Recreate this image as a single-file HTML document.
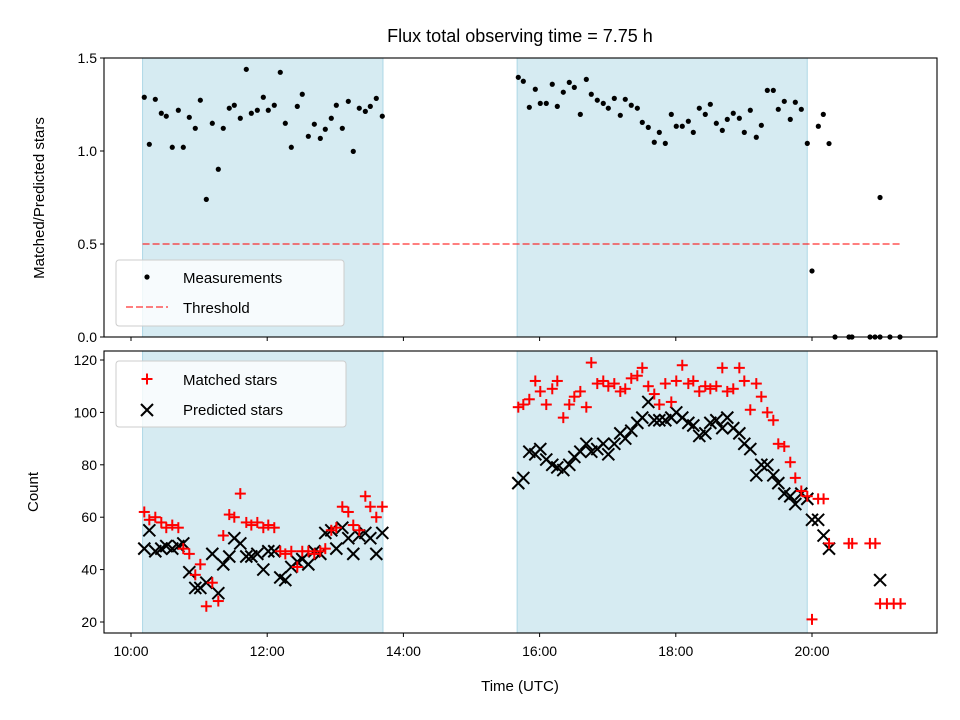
<!DOCTYPE html>
<html><head><meta charset="utf-8"><style>
body{margin:0;background:#fff;}
svg{display:block;font-family:"Liberation Sans","DejaVu Sans",sans-serif;}
</style></head><body>
<svg id="chart" width="960" height="720" viewBox="0 0 960 720" xmlns="http://www.w3.org/2000/svg"></svg>
<script>
// ---------- data ----------
const timesA = [10.195,10.269,10.357,10.445,10.518,10.606,10.695,10.768,10.856,10.944,11.018,11.106,11.194,11.282,11.355,11.443,11.517,11.605,11.693,11.767,11.855,11.943,12.016,12.104,12.192,12.266,12.354,12.442,12.515,12.604,12.692,12.780,12.853,12.941,13.015,13.103,13.191,13.264,13.352,13.441,13.514,13.602,13.690];
const ratioA = [1.289,1.036,1.278,1.203,1.187,1.020,1.219,1.020,1.181,1.122,1.273,0.740,1.149,0.902,1.122,1.230,1.246,1.176,1.439,1.203,1.219,1.289,1.219,1.246,1.423,1.149,1.020,1.240,1.305,1.079,1.144,1.068,1.117,1.176,1.246,1.122,1.267,0.998,1.230,1.213,1.240,1.283,1.187];
const matchedA = [62,59,60,58,56,57,56,48,46,38,42,26,35,28,53,61,60,69,58,57,58,56,57,56,47,46,47,41,47,47,46,47,48,55,56,64,62,57,55,68,64,60,64];
const predictedA = [48,55,47,48,49,48,49,50,39,33,33,35,46,31,42,45,52,50,45,45,46,40,47,47,37,36,41,43,44,42,47,46,54,55,48,56,52,46,53,54,52,46,54];
const timesB = [15.687,15.761,15.849,15.937,16.010,16.098,16.186,16.260,16.348,16.436,16.510,16.598,16.686,16.759,16.847,16.935,17.009,17.097,17.185,17.258,17.346,17.435,17.508,17.596,17.684,17.758,17.846,17.934,18.007,18.095,18.184,18.257,18.345,18.433,18.507,18.595,18.683,18.756,18.844,18.933,19.006,19.094,19.182,19.256,19.344,19.432,19.505,19.593,19.681,19.755,19.843,19.931];
const ratioB = [1.396,1.375,1.235,1.332,1.256,1.256,1.359,1.240,1.316,1.369,1.342,1.197,1.385,1.305,1.273,1.256,1.230,1.283,1.192,1.278,1.246,1.230,1.154,1.127,1.047,1.100,1.041,1.197,1.133,1.133,1.160,1.100,1.230,1.197,1.251,1.149,1.111,1.170,1.203,1.176,1.100,1.219,1.074,1.138,1.326,1.326,1.224,1.267,1.170,1.262,1.224,1.041];
const matchedB = [102,103,105,112,108,103,109,112,98,103,106,108,102,119,111,112,110,111,108,109,113,114,117,110,107,103,111,104,112,118,111,112,108,110,109,110,117,108,109,117,112,101,111,106,100,97,88,87,81,75,70,68];
const predictedB = [73,75,85,84,86,82,80,79,78,80,83,85,88,85,86,88,84,88,92,90,93,96,98,104,97,97,97,98,100,98,96,95,91,92,96,97,94,98,94,92,88,86,76,80,80,76,73,69,68,65,69,67];
const timesTail = [20.000,20.093,20.166,20.250,20.338,20.543,20.587,20.852,20.925,20.999,20.999,21.145,21.292];
const ratioTail = [0.355,1.133,1.197,1.04,0,0,0,0,0,0.75,0,0,0];
const matchedTailTimes = [20.0,20.09,20.17,20.25,20.54,20.59,20.85,20.93,21.0,21.1,21.2,21.3];
const matchedTail = [21,67,67,50,50,50,50,50,27,27,27,27];
const predictedTailTimes = [20.0,20.09,20.17,20.25,21.0];
const predictedTail = [59,59,53,48,36];
const xTickLabels = ["10:00","12:00","14:00","16:00","18:00","20:00"];
const xTickHours = [10,12,14,16,18,20];
const topTicks = [0,0.5,1.0,1.5];
const botTicks = [20,40,60,80,100,120];
const spans = [[10.17,13.70],[15.67,19.93]];
const threshold = 0.5;

// ---------- axes ----------
const L=104,R=937;
const X = h => 131 + (h-10)*68.1;
const yTop = v => 337 - v*186;
const yBot = v => 622 - (v-20)*2.62;
const NS="http://www.w3.org/2000/svg";
const svg=document.getElementById('chart');
function mk(tag,attrs,parent){const e=document.createElementNS(NS,tag);for(const k in attrs)e.setAttribute(k,attrs[k]);(parent||svg).appendChild(e);return e;}
function txt(s,attrs,parent){const e=mk('text',attrs,parent);e.textContent=s;return e;}

function panel(top,bottom,name){
  const g=mk('g',{});
  
  
  spans.forEach(s=>{
    const r=mk('rect',{x:X(s[0]),y:top,width:X(s[1])-X(s[0]),height:bottom-top,fill:'#add8e6','fill-opacity':0.5,stroke:'#add8e6','stroke-width':1},g);
    
    
  });
  return g;
}
function frame(top,bottom){mk('rect',{x:L,y:top,width:R-L,height:bottom-top,fill:'none',stroke:'#000','stroke-width':1.1});}

// Top panel
const gt=panel(58,337,'ratio-panel');
const th=mk('line',{x1:X(10.17),x2:X(21.3),y1:yTop(threshold),y2:yTop(threshold),stroke:'#ff0000','stroke-opacity':0.5,'stroke-width':2,'stroke-dasharray':'7,3'});


[[timesA,ratioA],[timesB,ratioB],[timesTail,ratioTail]].forEach(([t,v])=>{
  t.forEach((h,i)=>{
    const c=mk('circle',{cx:X(h),cy:yTop(v[i]),r:2.6,fill:'#000'});
    
    
  });
});
frame(58,337);
topTicks.forEach(v=>{
  mk('line',{x1:L-4,x2:L,y1:yTop(v),y2:yTop(v),stroke:'#000'});
  const t=txt(v.toFixed(1),{x:L-7,y:yTop(v)+5,'font-size':14,'text-anchor':'end'});
  
  
});
xTickHours.forEach(h=>mk('line',{x1:X(h),x2:X(h),y1:337,y2:341,stroke:'#000'}));
const ylt=txt('Matched/Predicted stars',{x:44,y:198,'font-size':15,'text-anchor':'middle',transform:'rotate(-90 44 198)'});



// Bottom panel
const gb=panel(351,633,'count-panel');
function plus(x,y){const g=mk('g',{stroke:'#ff0000','stroke-width':2});mk('line',{x1:x-5.5,x2:x+5.5,y1:y,y2:y},g);mk('line',{x1:x,x2:x,y1:y-5.5,y2:y+5.5},g);return g;}
function cross(x,y){const g=mk('g',{stroke:'#000','stroke-width':2});mk('line',{x1:x-6,x2:x+6,y1:y-6,y2:y+6},g);mk('line',{x1:x-6,x2:x+6,y1:y+6,y2:y-6},g);return g;}
[[timesA,predictedA],[timesB,predictedB],[predictedTailTimes,predictedTail]].forEach(([t,v])=>{
  t.forEach((h,i)=>{const m=cross(X(h),yBot(v[i]));
    
    });
});
[[timesA,matchedA],[timesB,matchedB],[matchedTailTimes,matchedTail]].forEach(([t,v])=>{
  t.forEach((h,i)=>{const m=plus(X(h),yBot(v[i]));
    
    });
});
frame(351,633);
botTicks.forEach(v=>{
  mk('line',{x1:L-4,x2:L,y1:yBot(v),y2:yBot(v),stroke:'#000'});
  const t=txt(String(v),{x:L-7,y:yBot(v)+5,'font-size':14,'text-anchor':'end'});
  
  
});
xTickHours.forEach((h,i)=>{
  mk('line',{x1:X(h),x2:X(h),y1:633,y2:637,stroke:'#000'});
  const t=txt(xTickLabels[i],{x:X(h),y:656,'font-size':14,'text-anchor':'middle'});
  
  
});
const ylb=txt('Count',{x:38,y:492,'font-size':15,'text-anchor':'middle',transform:'rotate(-90 38 492)'});


const xl=txt('Time (UTC)',{x:520,y:691,'font-size':15,'text-anchor':'middle'});


const ti=txt('Flux total observing time = 7.75 h',{x:520,y:42,'font-size':18,'text-anchor':'middle'});



// Legends
const lg1=mk('g',{});


mk('rect',{x:116,y:260,width:228,height:66,rx:3,fill:'#fff','fill-opacity':0.8,stroke:'#ccc'},lg1);
mk('circle',{cx:147,cy:277,r:2.6,fill:'#000'},lg1);
txt('Measurements',{x:183,y:283,'font-size':15},lg1);
mk('line',{x1:126,x2:168,y1:307,y2:307,stroke:'#ff0000','stroke-opacity':0.5,'stroke-width':2,'stroke-dasharray':'7,3'},lg1);
txt('Threshold',{x:183,y:313,'font-size':15},lg1);

const lg2=mk('g',{});


mk('rect',{x:116,y:361,width:230,height:66,rx:3,fill:'#fff','fill-opacity':0.8,stroke:'#ccc'},lg2);
lg2.appendChild(plus(147,379));
txt('Matched stars',{x:183,y:385,'font-size':15},lg2);
lg2.appendChild(cross(147,410));
txt('Predicted stars',{x:183,y:415,'font-size':15},lg2);
</script>
</body></html>
